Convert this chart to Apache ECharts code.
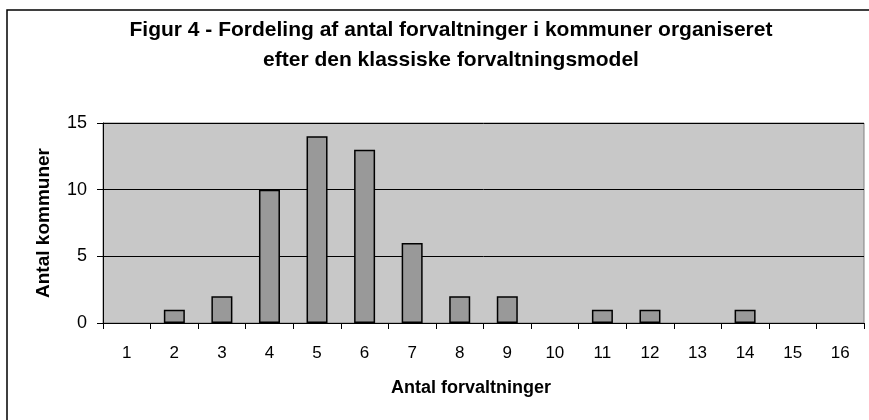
<!DOCTYPE html>
<html>
<head>
<meta charset="utf-8">
<script src="https://cdn.jsdelivr.net/npm/echarts@6/dist/echarts.min.js"></script>
<style>
  html, body { margin: 0; padding: 0; background: #ffffff; }
  #chart { width: 869px; height: 420px; }
</style>
</head>
<body>
<div id="chart"></div>
<script>
// antal forvaltninger (x) og antal kommuner (y)
const categories = ['1', '2', '3', '4', '5', '6', '7', '8', '9', '10', '11', '12', '13', '14', '15', '16'];
const kommuner = [0, 1, 2, 10, 14, 13, 6, 2, 2, 0, 1, 1, 0, 1, 0, 0];
const yTicks = [0, 5, 10, 15];

const font = '"Liberation Sans", Arial, sans-serif';

const chart = echarts.init(document.getElementById('chart'));

// zero-bars draw nothing in the original, so drop their outline
const barData = kommuner.map(v => ({
  value: v,
  itemStyle: v === 0 ? { borderWidth: 0 } : {}
}));

const option = {
  backgroundColor: '#ffffff',
  animation: false,
  title: {
    text: 'Figur 4 - Fordeling af antal forvaltninger i kommuner organiseret\nefter den klassiske forvaltningsmodel',
    left: 446,
    top: 10,
    textAlign: 'center',
    textStyle: {
      fontFamily: font,
      fontSize: 21,
      fontWeight: 'bold',
      color: '#000',
      lineHeight: 30
    }
  },
  graphic: [
    {
      type: 'rect',
      shape: { x: 7, y: 10, width: 900, height: 500 },
      style: { fill: 'none', stroke: '#000', lineWidth: 1.5 },
      silent: true
    },
    {
      type: 'text',
      left: 391,
      top: 379,
      style: {
        text: 'Antal forvaltninger',
        font: 'bold 18px ' + font,
        fill: '#000'
      }
    }
  ],
  grid: {
    left: 103,
    right: 5,
    top: 123,
    bottom: 97,
    show: true,
    backgroundColor: '#c8c8c8',
    borderColor: '#808080',
    borderWidth: 1
  },
  xAxis: {
    type: 'category',
    data: categories,
    boundaryGap: true,
    axisLine: { lineStyle: { color: '#000', width: 1 } },
    axisTick: { show: true, length: 6, lineStyle: { color: '#000' } },
    axisLabel: {
      color: '#000',
      fontFamily: font,
      fontSize: 17,
      margin: 22,
      interval: 0
    },
    splitLine: { show: false }
  },
  yAxis: {
    type: 'value',
    min: yTicks[0],
    max: yTicks[yTicks.length - 1],
    interval: 5,
    name: 'Antal kommuner',
    nameLocation: 'middle',
    nameGap: 50,
    nameRotate: 90,
    nameTextStyle: {
      color: '#000',
      fontFamily: font,
      fontSize: 19,
      fontWeight: 'bold'
    },
    axisLine: { show: true, lineStyle: { color: '#000', width: 1 } },
    axisTick: { show: true, length: 6, lineStyle: { color: '#000' } },
    axisLabel: {
      color: '#000',
      fontFamily: font,
      fontSize: 18,
      margin: 16
    },
    splitLine: { show: true, lineStyle: { color: '#000', width: 1 } }
  },
  series: [
    {
      type: 'bar',
      data: barData,
      barWidth: 21,
      itemStyle: {
        color: '#999999',
        borderColor: '#000',
        borderWidth: 1.5
      }
    }
  ]
};

chart.setOption(option);
</script>
</body>
</html>
